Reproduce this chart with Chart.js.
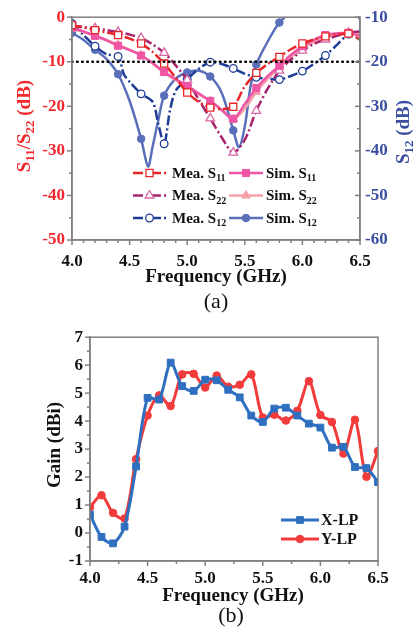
<!DOCTYPE html>
<html>
<head>
<meta charset="utf-8">
<script src="https://cdn.jsdelivr.net/npm/chart.js@4.4.0/dist/chart.umd.min.js"></script>
<style>
  html, body { margin: 0; padding: 0; background: #fff; }
  #wrapA { position: absolute; left: 0; top: 0; width: 414px; height: 320px; }
  #wrapB { position: absolute; left: 0; top: 320px; width: 414px; height: 320px; }
</style>
</head>
<body>
<div id="wrapA"><canvas id="chartA" width="414" height="320"></canvas></div>
<div id="wrapB"><canvas id="chartB" width="414" height="320"></canvas></div>
<script>
// ---------- (a) S-parameters ----------
const freqA = [4.0, 4.1, 4.2, 4.3, 4.4, 4.5, 4.6, 4.7, 4.8, 4.9, 5.0, 5.1, 5.2,
               5.3, 5.4, 5.5, 5.6, 5.7, 5.8, 5.9, 6.0, 6.1, 6.2, 6.3, 6.4, 6.5];
const meaS11 = [-1.8, -2.3, -2.9, -3.4, -4.0, -4.8, -5.9, -7.8, -10.4, -13.6, -16.9, -19.0, -20.3,
                -20.6, -20.1, -15.5, -12.5, -10.5, -8.9, -7.2, -5.9, -5.0, -4.3, -3.9, -3.7, -5.0];
const simS11 = [-2.3, -3.2, -4.2, -5.2, -6.4, -7.4, -8.6, -10.3, -12.3, -13.9, -15.4, -17.1, -18.8,
                -20.8, -22.8, -19.5, -15.9, -13.2, -10.9, -8.5, -6.5, -5.1, -4.0, -3.6, -3.5, -4.2];
const meaS22 = [-1.9, -2.2, -2.5, -2.9, -3.3, -3.9, -4.7, -6.1, -8.0, -10.8, -14.1, -18.5, -22.7,
                -27.0, -30.4, -27.5, -21.0, -16.0, -12.0, -9.5, -7.5, -6.0, -5.0, -4.2, -3.5, -3.2];
const simS22 = [-2.6, -3.3, -4.1, -5.1, -6.2, -7.3, -8.5, -10.4, -12.5, -14.1, -15.7, -17.3, -18.8,
                -20.9, -22.9, -20.5, -16.8, -13.8, -11.3, -9.0, -6.9, -5.6, -4.6, -3.9, -3.6, -3.9];
const freqMeaS12 = [4.0, 4.1, 4.2, 4.3, 4.4, 4.45, 4.5, 4.6, 4.7, 4.75, 4.8, 4.85, 4.9, 5.0, 5.1,
                    5.2, 5.3, 5.4, 5.5, 5.6, 5.7, 5.8, 5.9, 6.0, 6.1, 6.2, 6.3, 6.4, 6.5];
const meaS12 = [-11.4, -14.0, -16.5, -18.3, -18.8, -22.8, -24.5, -27.2, -29.0, -34.0, -38.4, -31.0, -26.5, -23.9, -21.6,
                -20.1, -20.5, -21.5, -22.7, -23.5, -23.8, -24.0, -23.2, -22.1, -20.5, -18.6, -16.2, -13.8, -13.3];
const freqSimS12 = [4.0, 4.1, 4.2, 4.3, 4.4, 4.5, 4.6, 4.66, 4.7, 4.75, 4.8, 4.9, 5.0, 5.1, 5.2,
                    5.3, 5.4, 5.45, 5.5, 5.55, 5.6, 5.7, 5.8, 5.9, 6.0, 6.2, 6.4, 6.5];
const simS12 = [-13.5, -15.1, -17.3, -19.4, -22.8, -28.8, -37.3, -43.5, -39.0, -33.0, -27.6, -23.8, -22.4, -22.0, -23.3,
                -27.0, -35.4, -39.2, -34.5, -25.5, -20.6, -15.4, -11.2, -8.8, -6.5, -5.0, -7.5, -10.4];
const refLevel = -10;

// ---------- (b) gain ----------
const freqB = [4.0, 4.1, 4.2, 4.3, 4.4, 4.5, 4.6, 4.7, 4.8, 4.9, 5.0, 5.1, 5.2,
               5.3, 5.4, 5.5, 5.6, 5.7, 5.8, 5.9, 6.0, 6.1, 6.2, 6.3, 6.4, 6.5];
const gainX = [0.66, -0.14, -0.37, 0.23, 2.38, 4.83, 4.77, 6.09, 5.25, 5.08, 5.48, 5.46, 5.12,
               4.85, 4.2, 3.97, 4.45, 4.48, 4.2, 3.91, 3.77, 3.05, 3.08, 2.36, 2.32, 1.82];
const gainY = [0.92, 1.35, 0.72, 0.52, 2.64, 4.2, 4.92, 4.54, 5.67, 5.69, 5.2, 5.63, 5.23,
               5.3, 5.67, 4.13, 4.23, 4.02, 4.37, 5.43, 4.22, 3.97, 2.84, 4.05, 2.01, 2.93];

const SERIF = '"Liberation Serif", "Times New Roman", serif';
const RED = '#f0282d';
const BLUE_AX = '#3b4ea0';
const AXIS = '#808080';

function toXY(xs, ys) {
  return xs.map((x, i) => ({ x: x, y: ys[i] }));
}
// markers every 0.2 GHz on plot (a)
function markerAt(x) {
  return Math.abs(x * 5 - Math.round(x * 5)) < 1e-6;
}
function markR(r) {
  return ctx => (ctx.raw && markerAt(ctx.raw.x)) ? r : 0;
}

function drawMarker(ctx, style, x, y, r, fill, stroke, lw) {
  ctx.beginPath();
  if (style === 'rect') {
    const h = r * Math.SQRT1_2;
    ctx.rect(x - h, y - h, 2 * h, 2 * h);
  } else if (style === 'triangle') {
    ctx.moveTo(x, y - r);
    ctx.lineTo(x + r * 0.866, y + r * 0.5);
    ctx.lineTo(x - r * 0.866, y + r * 0.5);
    ctx.closePath();
  } else {
    ctx.arc(x, y, r, 0, Math.PI * 2);
  }
  ctx.fillStyle = fill;
  ctx.fill();
  ctx.lineWidth = lw;
  ctx.strokeStyle = stroke;
  ctx.stroke();
}

// text with subscripts: segs = [[text, isSub], ...]
function drawRich(ctx, segs, x, y, size, color, align, weight) {
  const w = weight || 'bold';
  const subSize = Math.round(size * 0.66);
  let total = 0;
  segs.forEach(s => {
    ctx.font = w + ' ' + (s[1] ? subSize : size) + 'px ' + SERIF;
    total += ctx.measureText(s[0]).width;
  });
  let cx = align === 'center' ? x - total / 2 : x;
  ctx.fillStyle = color;
  ctx.textBaseline = 'middle';
  ctx.textAlign = 'left';
  segs.forEach(s => {
    ctx.font = w + ' ' + (s[1] ? subSize : size) + 'px ' + SERIF;
    ctx.fillText(s[0], cx, s[1] ? y + size * 0.32 : y);
    cx += ctx.measureText(s[0]).width;
  });
}

function decor(cfg) {
  return {
    id: 'decor',
    afterDatasetsDraw(chart) {
      const ctx = chart.ctx;
      const a = chart.chartArea;
      ctx.save();
      ctx.strokeStyle = AXIS;
      ctx.lineWidth = 1.5;
      ctx.strokeRect(a.left, a.top, a.right - a.left, a.bottom - a.top);
      // major + minor ticks
      cfg.ticks.forEach(t => {
        const s = chart.scales[t.id];
        const n = Math.round((s.max - s.min) / t.minor);
        for (let i = 0; i <= n; i++) {
          const v = s.min + i * t.minor;
          const major = Math.abs(v / t.major - Math.round(v / t.major)) < 1e-6;
          const len = major ? 5 : 3;
          const p = s.getPixelForValue(v);
          ctx.beginPath();
          if (s.isHorizontal()) {
            ctx.moveTo(p, a.bottom);
            ctx.lineTo(p, a.bottom + len);
          } else {
            const x0 = s.position === 'left' ? a.left : a.right;
            const sign = (s.position === 'left') === (t.dir === 'out') ? -1 : 1;
            ctx.moveTo(x0, p);
            ctx.lineTo(x0 + sign * len, p);
          }
          ctx.stroke();
        }
      });
      ctx.restore();
    },
    afterDraw(chart) {
      const ctx = chart.ctx;
      ctx.save();
      cfg.texts.forEach(t => {
        ctx.save();
        ctx.translate(t.x, t.y);
        if (t.rot) ctx.rotate(t.rot);
        drawRich(ctx, t.segs, 0, 0, t.size, t.color, 'center', t.weight);
        ctx.restore();
      });
      cfg.legend.forEach(it => {
        const ds = chart.data.datasets[it.ds];
        ctx.save();
        ctx.strokeStyle = ds.borderColor;
        ctx.lineWidth = ds.borderWidth;
        ctx.setLineDash(ds.borderDash || []);
        ctx.beginPath();
        ctx.moveTo(it.x1, it.y);
        ctx.lineTo(it.x2, it.y);
        ctx.stroke();
        ctx.setLineDash([]);
        drawMarker(ctx, ds.pointStyle, (it.x1 + it.x2) / 2, it.y, it.r,
                   ds.pointBackgroundColor, ds.pointBorderColor, ds.pointBorderWidth);
        ctx.restore();
        drawRich(ctx, it.segs, it.tx, it.y + 1, it.size, '#111', 'left');
      });
      ctx.restore();
    }
  };
}

const tickFont = { family: SERIF, size: 17, weight: 'bold' };

// ---------- chart (a) ----------
function mea(label, xs, ys, color, style, r, axis) {
  return {
    label: label, data: toXY(xs, ys), yAxisID: axis,
    borderColor: color, borderWidth: 2.5, borderDash: [10, 3, 2, 3],
    tension: 0.3, pointStyle: style, pointRadius: markR(r),
    pointBackgroundColor: '#fff', pointBorderColor: color, pointBorderWidth: 1.3
  };
}
function sim(label, xs, ys, color, style, r, axis) {
  return {
    label: label, data: toXY(xs, ys), yAxisID: axis,
    borderColor: color, borderWidth: 2.5, borderDash: [],
    tension: 0.3, pointStyle: style, pointRadius: markR(r),
    pointBackgroundColor: color, pointBorderColor: color, pointBorderWidth: 1
  };
}

const dsA = [
  { label: 'ref', data: [{ x: 4, y: refLevel }, { x: 6.5, y: refLevel }], yAxisID: 'y',
    borderColor: '#000', borderWidth: 2.6, borderDash: [0.5, 4.6], borderCapStyle: 'round', pointRadius: 0 },
  mea('Mea. S11', freqA, meaS11, '#e8262a', 'rect', 5, 'y'),
  sim('Sim. S11', freqA, simS11, '#ee55a4', 'rect', 5, 'y'),
  mea('Mea. S22', freqA, meaS22, '#a8236e', 'triangle', 5, 'y'),
  sim('Sim. S22', freqA, simS22, '#f5a0a8', 'triangle', 5, 'y'),
  mea('Mea. S12', freqMeaS12, meaS12, '#1f3c96', 'circle', 3.8, 'y1'),
  sim('Sim. S12', freqSimS12, simS12, '#5a6fba', 'circle', 3.8, 'y1')
];
// light pink outline for measured S22 triangles
dsA[3].pointBorderColor = '#d86aa8';

new Chart(document.getElementById('chartA'), {
  type: 'line',
  data: { datasets: dsA },
  options: {
    responsive: false, animation: false, events: [],
    layout: { padding: { top: 10, left: 0, right: 0, bottom: 0 } },
    plugins: { legend: { display: false }, tooltip: { enabled: false } },
    scales: {
      x: {
        type: 'linear', min: 4, max: 6.5,
        afterFit: s => { s.height = 80; },
        ticks: { stepSize: 0.5, callback: v => v.toFixed(1), font: tickFont, color: '#111', padding: 11, maxRotation: 0 },
        grid: { display: false, drawTicks: false },
        border: { color: AXIS, width: 1.5 }
      },
      y: {
        position: 'left', min: -50, max: 0,
        afterFit: s => { s.width = 72; },
        ticks: { stepSize: 10, font: tickFont, color: RED, padding: 7 },
        grid: { display: false, drawTicks: false },
        border: { color: AXIS, width: 1.5 }
      },
      y1: {
        position: 'right', min: -60, max: -10,
        afterFit: s => { s.width = 54; },
        ticks: { stepSize: 10, font: tickFont, color: BLUE_AX, padding: 5 },
        grid: { display: false, drawTicks: false },
        border: { color: AXIS, width: 1.5 }
      }
    }
  },
  plugins: [decor({
    ticks: [
      { id: 'x', major: 0.5, minor: 0.1, dir: 'out' },
      { id: 'y', major: 10, minor: 5, dir: 'out' },
      { id: 'y1', major: 10, minor: 5, dir: 'in' }
    ],
    texts: [
      { x: 25, y: 126, rot: -Math.PI / 2, size: 19, color: RED,
        segs: [['S', 0], ['11', 1], ['/S', 0], ['22', 1], [' (dB)', 0]] },
      { x: 404, y: 132, rot: -Math.PI / 2, size: 19, color: BLUE_AX,
        segs: [['S', 0], ['12', 1], [' (dB)', 0]] },
      { x: 216, y: 277, size: 19, color: '#111', segs: [['Frequency (GHz)', 0]] },
      { x: 216, y: 302, size: 22, color: '#111', weight: 'normal', segs: [['(a)', 0]] }
    ],
    legend: [
      { ds: 1, x1: 133, x2: 166, y: 173, r: 5, tx: 172, size: 15, segs: [['Mea. S', 0], ['11', 1]] },
      { ds: 3, x1: 133, x2: 166, y: 195.5, r: 5, tx: 172, size: 15, segs: [['Mea. S', 0], ['22', 1]] },
      { ds: 5, x1: 133, x2: 166, y: 218, r: 3.8, tx: 172, size: 15, segs: [['Mea. S', 0], ['12', 1]] },
      { ds: 2, x1: 229, x2: 263, y: 173, r: 5, tx: 266, size: 15, segs: [['Sim. S', 0], ['11', 1]] },
      { ds: 4, x1: 229, x2: 263, y: 195.5, r: 5, tx: 266, size: 15, segs: [['Sim. S', 0], ['22', 1]] },
      { ds: 6, x1: 229, x2: 263, y: 218, r: 3.8, tx: 266, size: 15, segs: [['Sim. S', 0], ['12', 1]] }
    ]
  })]
});

// ---------- chart (b) ----------
const dsB = [
  { label: 'X-LP', data: toXY(freqB, gainX), borderColor: '#2f6fc0', borderWidth: 3, tension: 0.3,
    pointStyle: 'rect', pointRadius: 4.8, pointBackgroundColor: '#2f6fc0', pointBorderColor: '#2f6fc0', pointBorderWidth: 1 },
  { label: 'Y-LP', data: toXY(freqB, gainY), borderColor: '#f23b3b', borderWidth: 3, tension: 0.3,
    pointStyle: 'circle', pointRadius: 3.8, pointBackgroundColor: '#f23b3b', pointBorderColor: '#f23b3b', pointBorderWidth: 1 }
];

new Chart(document.getElementById('chartB'), {
  type: 'line',
  data: { datasets: dsB },
  options: {
    responsive: false, animation: false, events: [],
    layout: { padding: { top: 9, left: 0, right: 36, bottom: 0 } },
    plugins: { legend: { display: false }, tooltip: { enabled: false } },
    scales: {
      x: {
        type: 'linear', min: 4, max: 6.5,
        afterFit: s => { s.height = 79; },
        ticks: { stepSize: 0.5, callback: v => v.toFixed(1), font: tickFont, color: '#111', padding: 7, maxRotation: 0 },
        grid: { display: false, drawTicks: false },
        border: { color: AXIS, width: 1.5 }
      },
      y: {
        position: 'left', min: -1, max: 7,
        afterFit: s => { s.width = 90; },
        ticks: { stepSize: 1, font: tickFont, color: '#111', padding: 7 },
        grid: { display: false, drawTicks: false },
        border: { color: AXIS, width: 1.5 }
      }
    }
  },
  plugins: [decor({
    ticks: [
      { id: 'x', major: 0.5, minor: 0.25, dir: 'out' },
      { id: 'y', major: 1, minor: 0.5, dir: 'out' }
    ],
    texts: [
      { x: 55, y: 125, rot: -Math.PI / 2, size: 19, color: '#111', segs: [['Gain (dBi)', 0]] },
      { x: 233, y: 276, size: 19, color: '#111', segs: [['Frequency (GHz)', 0]] },
      { x: 231, y: 296, size: 22, color: '#111', weight: 'normal', segs: [['(b)', 0]] }
    ],
    legend: [
      { ds: 0, x1: 281, x2: 319, y: 200, r: 4.8, tx: 321, size: 16, segs: [['X-LP', 0]] },
      { ds: 1, x1: 281, x2: 319, y: 219, r: 3.8, tx: 321, size: 16, segs: [['Y-LP', 0]] }
    ]
  })]
});
</script>
</body>
</html>
